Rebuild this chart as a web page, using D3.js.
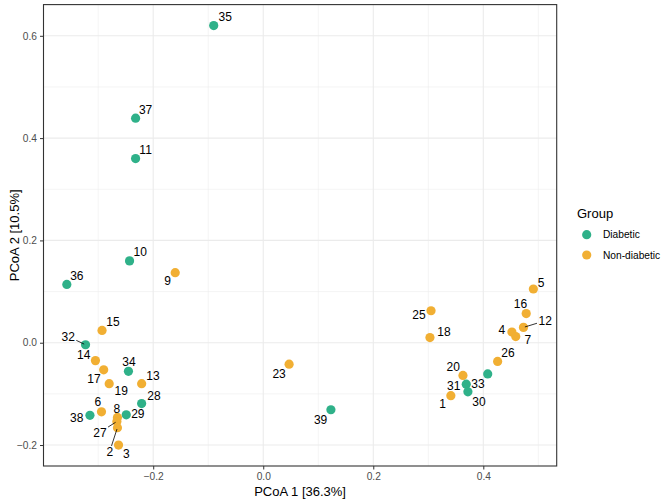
<!DOCTYPE html>
<html>
<head>
<meta charset="utf-8">
<script src="https://cdn.jsdelivr.net/npm/d3@7"></script>
<style>
  html, body { margin: 0; padding: 0; background: #fff; }
  svg { display: block; font-family: "Liberation Sans", Arial, Helvetica, sans-serif; }
</style>
</head>
<body>
<svg id="chart" width="666" height="503"></svg>
<script>
// ---- data ----
const sampleIds = [35, 37, 11, 10, 36, 9, 15, 32, 14, 17, 34, 19, 13, 28, 6, 38, 29, 8, 27, 2, 3,
                   23, 39, 5, 16, 12, 4, 7, 25, 18, 26, 33, 20, 31, 30, 1];
const groups = ["Diabetic", "Diabetic", "Diabetic", "Diabetic", "Diabetic", "Non-diabetic", "Non-diabetic",
                "Diabetic", "Non-diabetic", "Non-diabetic", "Diabetic", "Non-diabetic", "Non-diabetic", "Diabetic",
                "Non-diabetic", "Diabetic", "Diabetic", "Non-diabetic", "Non-diabetic", "Non-diabetic", "Non-diabetic",
                "Non-diabetic", "Diabetic", "Non-diabetic", "Non-diabetic", "Non-diabetic", "Non-diabetic", "Non-diabetic",
                "Non-diabetic", "Non-diabetic", "Non-diabetic", "Diabetic", "Non-diabetic", "Diabetic", "Diabetic", "Non-diabetic"];
const pcoa1 = [-0.090, -0.232, -0.232, -0.243, -0.357, -0.160, -0.293, -0.323, -0.305, -0.290, -0.245, -0.280, -0.221, -0.221,
               -0.294, -0.315, -0.249, -0.265, -0.266, -0.265, -0.263,
               0.047, 0.123, 0.491, 0.478, 0.473, 0.452, 0.459, 0.305, 0.303, 0.426, 0.408, 0.363, 0.369, 0.372, 0.341];
const pcoa2 = [0.620, 0.439, 0.360, 0.160, 0.114, 0.137, 0.024, -0.004, -0.035, -0.053, -0.056, -0.080, -0.080, -0.119,
               -0.135, -0.142, -0.141, -0.146, -0.154, -0.166, -0.200,
               -0.042, -0.131, 0.105, 0.057, 0.030, 0.021, 0.012, 0.0625, 0.010, -0.0365, -0.061, -0.064, -0.081, -0.096, -0.1035];
const groupLevels = ["Diabetic", "Non-diabetic"];
const groupColors = ["#2FB189", "#F1AF33"];
const xTicks = [-0.2, 0.0, 0.2, 0.4];
const yTicks = [-0.2, 0.0, 0.2, 0.4, 0.6];
const xMinor = [-0.3, -0.1, 0.1, 0.3, 0.5];
const yMinor = [-0.1, 0.1, 0.3, 0.5];
const xTitle = "PCoA 1 [36.3%]";
const yTitle = "PCoA 2 [10.5%]";
const legendTitle = "Group";

// ---- layout (label placement as done by the repel step, in px) ----
const labelOffsets = {
  35: [11.5, -9], 37: [10, -8], 11: [10, -8.7], 10: [10.7, -9], 36: [10, -8.7], 9: [-7.7, 7.7],
  15: [11, -9], 32: [-17.4, -8.3], 14: [-11.7, -5.7], 17: [-9.7, 9.3], 34: [0.6, -9.7], 19: [12, 6.7],
  13: [11.3, -8.3], 28: [12.3, -8.3], 6: [-3.7, -9.6], 38: [-13.3, 2.6], 29: [11.6, -0.7], 8: [-0.6, -8.7],
  27: [-17, 10.7], 2: [-7.7, 23.7], 3: [7.7, 8.6], 23: [-10, 9.6], 39: [-10.3, 9.7],
  5: [7.7, -6], 16: [-5.7, -10.3], 12: [21.7, -6.6], 4: [-10, -2], 7: [12, 2.6], 25: [-12, 4], 18: [14, -6],
  26: [10.3, -9], 20: [-9.7, -8.3], 31: [-12.6, 1.7], 33: [-9.7, 9.7], 1: [-8.3, 8], 30: [11, 10]
};
const segmentIds = [32, 27, 2, 12];

const data = sampleIds.map((id, i) => ({ id, group: groups[i], x: pcoa1[i], y: pcoa2[i] }));

const svg = d3.select("#chart");
const panel = { left: 43.5, right: 556.7, top: 4.6, bottom: 466 };

function expand(ext) { const r = ext[1] - ext[0]; return [ext[0] - 0.05 * r, ext[1] + 0.05 * r]; }
const x = d3.scaleLinear().domain(expand(d3.extent(data, d => d.x))).range([panel.left, panel.right]);
const y = d3.scaleLinear().domain(expand(d3.extent(data, d => d.y))).range([panel.bottom, panel.top]);
const color = d3.scaleOrdinal().domain(groupLevels).range(groupColors);

const pw = panel.right - panel.left, ph = panel.bottom - panel.top;

// panel background
svg.append("rect").attr("x", panel.left).attr("y", panel.top).attr("width", pw).attr("height", ph).attr("fill", "#fff");

// grid lines
const grid = svg.append("g");
grid.selectAll(".xmin").data(xMinor).join("line")
  .attr("x1", d => x(d)).attr("x2", d => x(d)).attr("y1", panel.top).attr("y2", panel.bottom)
  .attr("stroke", "#EBEBEB").attr("stroke-width", 0.55);
grid.selectAll(".ymin").data(yMinor).join("line")
  .attr("y1", d => y(d)).attr("y2", d => y(d)).attr("x1", panel.left).attr("x2", panel.right)
  .attr("stroke", "#EBEBEB").attr("stroke-width", 0.55);
grid.selectAll(".xmaj").data(xTicks).join("line")
  .attr("x1", d => x(d)).attr("x2", d => x(d)).attr("y1", panel.top).attr("y2", panel.bottom)
  .attr("stroke", "#EBEBEB").attr("stroke-width", 1.1);
grid.selectAll(".ymaj").data(yTicks).join("line")
  .attr("y1", d => y(d)).attr("y2", d => y(d)).attr("x1", panel.left).attr("x2", panel.right)
  .attr("stroke", "#EBEBEB").attr("stroke-width", 1.1);

// axes
const xAxis = d3.axisBottom(x).tickValues(xTicks).tickFormat(d3.format(".1f")).tickSize(3.5).tickPadding(3);
const yAxis = d3.axisLeft(y).tickValues(yTicks).tickFormat(d3.format(".1f")).tickSize(3.5).tickPadding(3);
const gx = svg.append("g").attr("transform", `translate(0,${panel.bottom})`).call(xAxis);
const gy = svg.append("g").attr("transform", `translate(${panel.left},0)`).call(yAxis);
[gx, gy].forEach(g => {
  g.select(".domain").remove();
  g.selectAll(".tick line").attr("stroke", "#333333").attr("stroke-width", 1);
  g.selectAll(".tick text").attr("fill", "#4D4D4D").style("font-size", "10.2px")
    .style("font-family", '"Liberation Sans", Arial, sans-serif');
});
gx.selectAll(".tick text").attr("dy", "0.71em");

// points
svg.append("g").selectAll("circle").data(data).join("circle")
  .attr("cx", d => x(d.x)).attr("cy", d => y(d.y)).attr("r", 4.6)
  .attr("fill", d => color(d.group));

// labels with repel-style offsets
const labelFont = 12;
const lab = svg.append("g");
data.forEach(d => {
  const off = labelOffsets[d.id] || [8, -8];
  const px = x(d.x), py = y(d.y);
  const lx = px + off[0], ly = py + off[1];
  if (segmentIds.includes(d.id)) {
    const hw = (String(d.id).length * 0.556 * labelFont) / 2 + 1.5, hh = labelFont * 0.45;
    const dx = px - lx, dy = py - ly;
    const t = Math.min(Math.abs(hw / dx) || Infinity, Math.abs(hh / dy) || Infinity);
    const sx = lx + dx * t, sy = ly + dy * t;
    const len = Math.hypot(dx, dy);
    const ex = px - dx / len * 1.5, ey = py - dy / len * 1.5;
    lab.append("line").attr("x1", sx).attr("y1", sy).attr("x2", ex).attr("y2", ey)
      .attr("stroke", "#000").attr("stroke-width", 0.8);
  }
  lab.append("text").attr("x", lx).attr("y", ly).attr("dy", "0.36em")
    .attr("text-anchor", "middle").style("font-size", labelFont + "px").attr("fill", "#000")
    .text(d.id);
});

// panel border
svg.append("rect").attr("x", panel.left).attr("y", panel.top).attr("width", pw).attr("height", ph)
  .attr("fill", "none").attr("stroke", "#333333").attr("stroke-width", 1.1);

// axis titles
svg.append("text").attr("x", (panel.left + panel.right) / 2).attr("y", 496)
  .attr("text-anchor", "middle").style("font-size", "13px").attr("fill", "#000").text(xTitle);
svg.append("text").attr("transform", `translate(18.5,${(panel.top + panel.bottom) / 2}) rotate(-90)`)
  .attr("text-anchor", "middle").style("font-size", "13px").attr("fill", "#000").text(yTitle);

// legend
const leg = svg.append("g");
leg.append("text").attr("x", 577).attr("y", 217.5).style("font-size", "13px").attr("fill", "#000").text(legendTitle);
groupLevels.forEach((g, i) => {
  const cy = 234.7 + i * 20.3;
  leg.append("circle").attr("cx", 586.7).attr("cy", cy).attr("r", 4.6).attr("fill", color(g));
  leg.append("text").attr("x", 603).attr("y", cy).attr("dy", "0.36em")
    .style("font-size", "10.2px").attr("fill", "#000").text(g);
});
</script>
</body>
</html>
